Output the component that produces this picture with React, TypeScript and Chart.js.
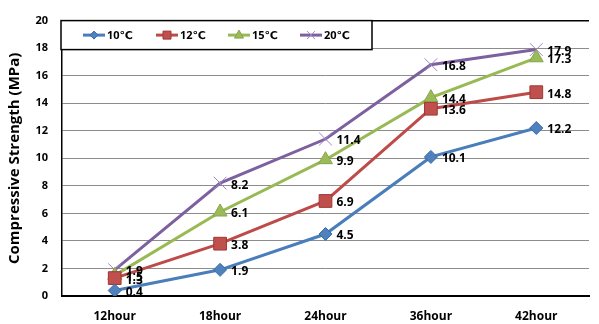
import React, { useEffect, useRef } from "react";
import { Chart, registerables } from "chart.js";

Chart.register(...registerables);

const categories = ["12hour", "18hour", "24hour", "36hour", "42hour"];
const seriesNames = ["10℃", "12℃", "15℃", "20℃"];
const s10 = [0.4, 1.9, 4.5, 10.1, 12.2];
const s12 = [1.3, 3.8, 6.9, 13.6, 14.8];
const s15 = [1.5, 6.1, 9.9, 14.4, 17.3];
const s20 = [1.9, 8.2, 11.4, 16.8, 17.9];
const yTitle = "Compressive Strength (MPa)";

const FONT = "'Open Sans', 'DejaVu Sans', sans-serif";

const styles = [
  { line: "#4A7EBB", fill: "#4F81BD", border: "#3A6BA5", point: "rectRot", r: 6.5 },
  { line: "#BE4B48", fill: "#C0504D", border: "#9E3835", point: "rect", r: 9 },
  { line: "#98B954", fill: "#9BBB59", border: "#86A648", point: "triangle", r: 8 },
  { line: "#7D60A0", fill: "#9D86C0", border: "#9D86C0", point: "crossRot", r: 9 },
];

function legendMarker(ctx: CanvasRenderingContext2D, kind: string, x: number, y: number, st: any) {
  ctx.fillStyle = st.fill;
  ctx.strokeStyle = st.border;
  ctx.lineWidth = 1;
  ctx.beginPath();
  if (kind === "rectRot") {
    ctx.moveTo(x, y - 4);
    ctx.lineTo(x + 4, y);
    ctx.lineTo(x, y + 4);
    ctx.lineTo(x - 4, y);
    ctx.closePath();
    ctx.fill();
    ctx.stroke();
  } else if (kind === "rect") {
    ctx.rect(x - 4, y - 4, 8, 8);
    ctx.fill();
    ctx.stroke();
  } else if (kind === "triangle") {
    ctx.moveTo(x, y - 5);
    ctx.lineTo(x + 4.5, y + 3);
    ctx.lineTo(x - 4.5, y + 3);
    ctx.closePath();
    ctx.fill();
    ctx.stroke();
  } else {
    ctx.moveTo(x - 4, y - 4);
    ctx.lineTo(x + 4, y + 4);
    ctx.moveTo(x + 4, y - 4);
    ctx.lineTo(x - 4, y + 4);
    ctx.stroke();
  }
}

const dataLabels = {
  id: "dataLabels",
  afterDatasetsDraw(chart: any) {
    const ctx = chart.ctx;
    ctx.save();
    ctx.font = `bold 12px ${FONT}`;
    ctx.fillStyle = "#000";
    ctx.textAlign = "left";
    ctx.textBaseline = "middle";
    chart.data.datasets.forEach((ds: any, i: number) => {
      const meta = chart.getDatasetMeta(i);
      meta.data.forEach((el: any, j: number) => {
        ctx.fillText(String(ds.data[j]), el.x + 11, el.y + 2);
      });
    });
    ctx.restore();
  },
};

const boxLegend = {
  id: "boxLegend",
  afterDraw(chart: any) {
    const ctx = chart.ctx;
    const left = chart.chartArea.left - 1;
    const top = chart.chartArea.top;
    ctx.save();
    ctx.fillStyle = "#fff";
    ctx.fillRect(left, top, 311, 29);
    ctx.strokeStyle = "#000";
    ctx.lineWidth = 1.5;
    ctx.strokeRect(left, top, 311, 29);
    const xs = [83, 156, 228, 300];
    const cy = top + 14.5;
    chart.data.datasets.forEach((ds: any, i: number) => {
      const st = styles[i];
      const x0 = xs[i];
      ctx.strokeStyle = st.line;
      ctx.lineWidth = 3;
      ctx.beginPath();
      ctx.moveTo(x0, cy);
      ctx.lineTo(x0 + 22, cy);
      ctx.stroke();
      legendMarker(ctx, st.point, x0 + 11, cy, st);
      ctx.fillStyle = "#000";
      ctx.font = `bold 11px ${FONT}`;
      ctx.textAlign = "left";
      ctx.textBaseline = "middle";
      ctx.fillText(ds.label, x0 + 24, cy + 1);
    });
    ctx.restore();
  },
};

export default function App() {
  const ref = useRef<HTMLCanvasElement>(null);
  useEffect(() => {
    if (!ref.current) return;
    const datasets = [s10, s12, s15, s20].map((d, i) => ({
      label: seriesNames[i],
      data: d,
      borderColor: styles[i].line,
      backgroundColor: styles[i].fill,
      pointBackgroundColor: styles[i].fill,
      pointBorderColor: styles[i].border,
      pointBorderWidth: 1,
      pointStyle: styles[i].point,
      pointRadius: styles[i].r,
      borderWidth: 3,
      tension: 0,
    }));
    const chart = new Chart(ref.current, {
      type: "line",
      data: { labels: categories, datasets },
      options: {
        animation: false,
        responsive: false,
        layout: { padding: { top: 12, right: 0, left: 0, bottom: 0 } },
        plugins: { legend: { display: false }, tooltip: { enabled: false } },
        scales: {
          x: {
            offset: true,
            grid: { display: false },
            border: { display: true, color: "#000", width: 2 },
            ticks: { color: "#000", font: { family: FONT, weight: "bold", size: 12 }, padding: 5 },
            afterFit: (s: any) => { s.height = 28; },
          },
          y: {
            min: 0,
            max: 20,
            ticks: { stepSize: 2, color: "#000", font: { family: FONT, weight: "bold", size: 11 }, padding: 14 },
            grid: {
              drawTicks: false,
              color: (c: any) => (c.tick && c.tick.value === 20 ? "#000" : "#8c8c8c"),
              lineWidth: (c: any) => (c.tick && c.tick.value === 20 ? 1.5 : 1),
            },
            border: { display: true, color: "#000", width: 1.5 },
            title: {
              display: true,
              text: yTitle,
              color: "#000",
              font: { family: FONT, weight: "bold", size: 15 },
              padding: { top: 6, bottom: 0 },
            },
            afterFit: (s: any) => { s.width = 62; },
          },
        },
      } as any,
      plugins: [dataLabels, boxLegend],
    });
    return () => chart.destroy();
  }, []);
  return (
    <div style={{ position: "absolute", left: 0, top: 0, width: 599, height: 324, background: "#fff" }}>
      <canvas ref={ref} width={599} height={324} style={{ width: 599, height: 324 }} />
    </div>
  );
}
